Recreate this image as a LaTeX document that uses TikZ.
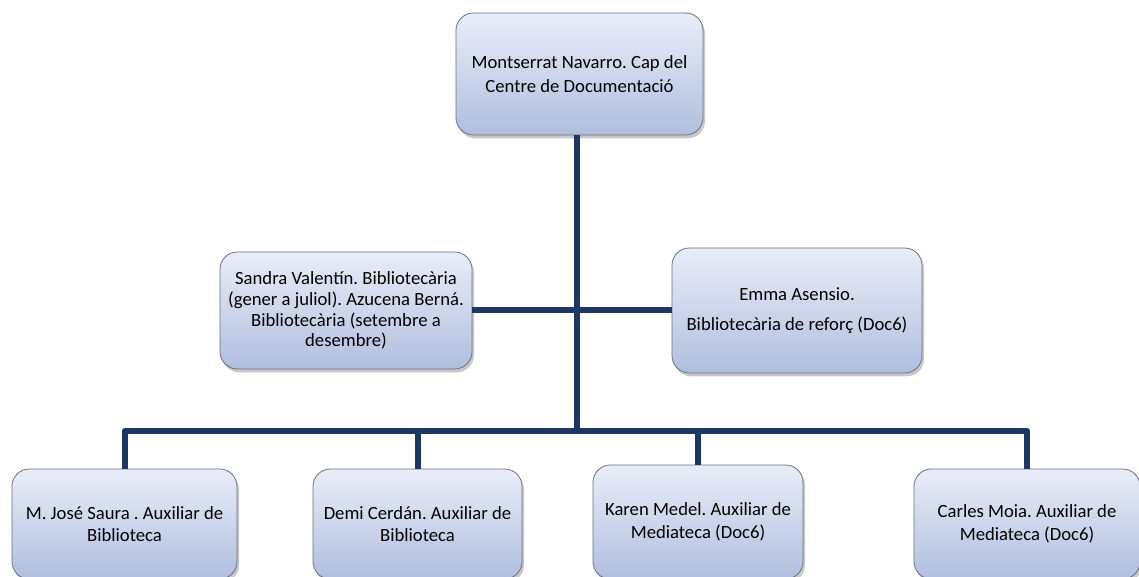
\documentclass[tikz,border=0pt]{standalone}
\usepackage{fontspec}
\setmainfont{Carlito}
\frenchspacing
\usetikzlibrary{shadows}
\definecolor{navy}{RGB}{28,56,98}
\definecolor{boxtop}{RGB}{233,237,247}
\definecolor{boxbot}{RGB}{176,190,222}
\definecolor{boxedge}{RGB}{105,112,128}
\tikzset{
  orgbox/.style={draw=boxedge, line width=0.6pt, rounded corners=13pt,
    top color=boxtop, bottom color=boxbot, align=center,
    font=\fontsize{14}{15.5}\selectfont\frenchspacing, inner sep=2pt,
    drop shadow={shadow xshift=1.5pt, shadow yshift=-2.5pt, opacity=0.3, fill=black!70}},
  link/.style={draw=navy, line width=4.5pt}
}
\begin{document}
\begin{tikzpicture}[x=0.75pt,y=-0.75pt]
\clip (0,0) rectangle (1139,577);
\fill[white] (0,0) rectangle (1139,577);
\coordinate (j) at (577,431);
\node[orgbox, minimum width=185.25pt, minimum height=91.5pt] (top) at (579.5,74) {Montserrat Navarro. Cap del\\[2pt]Centre de Documentació};
\node[orgbox, minimum width=189pt, minimum height=87.75pt] (lm) at (346,310.5) {Sandra Valentín. Bibliotecària\\(gener a juliol). Azucena Berná.\\Bibliotecària (setembre a\\desembre)};
\node[orgbox, minimum width=187.5pt, minimum height=93.75pt] (rm) at (797,310.5) {Emma Asensio.\\[6.5pt]Bibliotecària de reforç (Doc6)};
\node[orgbox, minimum width=168.75pt, minimum height=82.5pt] (b1) at (124.5,524) {M. José Saura . Auxiliar de\\[1.5pt]Biblioteca};
\node[orgbox, minimum width=156.75pt, minimum height=82.5pt] (b2) at (417.5,524) {Demi Cerdán. Auxiliar de\\[1.5pt]Biblioteca};
\node[orgbox, minimum width=157.5pt, minimum height=85.5pt] (b3) at (698,522) {Karen Medel. Auxiliar de\\[1.5pt]Mediateca (Doc6)};
\node[orgbox, minimum width=169.5pt, minimum height=82.5pt] (b4) at (1027,524) {Carles Moia. Auxiliar de\\[1.5pt]Mediateca (Doc6)};
\draw[link] (top.south -| j) -- (j);
\draw[link] (lm.east) -- (lm.east -| j);
\draw[link] (rm.west) -- (rm.west -| j);
\draw[link, line join=round] (b1.north) |- (j);
\draw[link] (b2.north) -- (b2.north |- j);
\draw[link, line join=round] (j) -| (b3.north);
\draw[link, line join=round] (b3.north |- j) -| (b4.north);
\end{tikzpicture}
\end{document}
